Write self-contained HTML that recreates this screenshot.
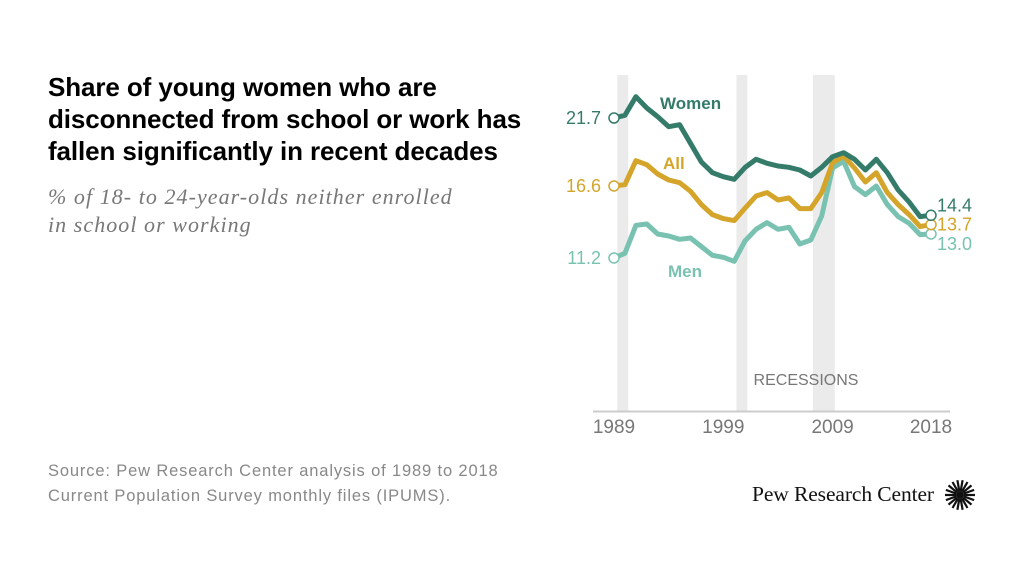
<!DOCTYPE html>
<html><head><meta charset="utf-8">
<style>
body{margin:0;width:1024px;height:576px;background:#fff;overflow:hidden;font-family:"Liberation Sans",sans-serif;position:relative}
.t{position:absolute;left:48px;top:71px;font-weight:bold;font-size:26px;line-height:32px;color:#000;letter-spacing:-0.1px;margin:0}
.s{position:absolute;left:48px;top:183px;font-family:"Liberation Serif",serif;font-style:italic;font-size:22px;line-height:28px;color:#777;margin:0;letter-spacing:1.05px}
.src{position:absolute;left:48px;top:459px;font-size:16.5px;line-height:25px;color:#888;letter-spacing:0.85px}
.logo{position:absolute;left:752px;top:482px;font-family:"Liberation Serif",serif;font-size:21.5px;color:#111;letter-spacing:-0.1px}
svg{position:absolute;left:0;top:0}
</style></head><body>
<h1 class="t">Share of young women who are<br>disconnected from school or work has<br>fallen significantly in recent decades</h1>
<p class="s">% of 18- to 24-year-olds neither enrolled<br>in school or working</p>
<div class="src">Source: Pew Research Center analysis of 1989 to 2018<br>Current Population Survey monthly files (IPUMS).</div>
<div class="logo">Pew Research Center</div>
<svg id="c" width="1024" height="576"></svg>
<script>
const years=[];for(let y=1989;y<=2018;y++)years.push(y);
const women=[21.7,21.9,23.3,22.45,21.8,21.05,21.2,19.8,18.4,17.6,17.3,17.1,18.0,18.6,18.3,18.1,18.0,17.8,17.35,18.0,18.8,19.1,18.6,17.8,18.6,17.6,16.3,15.4,14.3,14.4];
const all=[16.6,16.7,18.5,18.2,17.5,17.05,16.85,16.2,15.2,14.45,14.15,14.0,14.95,15.85,16.1,15.55,15.7,14.9,14.9,16.1,18.35,18.85,17.95,16.9,17.6,16.1,15.2,14.45,13.55,13.7];
const men=[11.2,11.55,13.65,13.75,13.0,12.85,12.6,12.7,12.05,11.4,11.25,10.95,12.5,13.35,13.85,13.35,13.5,12.25,12.55,14.35,17.95,18.45,16.55,15.95,16.6,15.2,14.3,13.8,12.95,13.0];
const recessions=[[1989.3,1990.3],[2000.2,2001.2],[2007.2,2009.2]];
const tickYears=[1989,1999,2009,2018];
const NS="http://www.w3.org/2000/svg";
const svg=document.getElementById('c');
const x=v=>614+(v-1989)*(931-614)/29;
const y=v=>118+(21.7-v)*13.33;
function mk(tag,at,txt){const e=document.createElementNS(NS,tag);for(const k in at)e.setAttribute(k,at[k]);if(txt!==undefined)e.textContent=txt;svg.appendChild(e);return e;}
recessions.forEach(r=>{const e=mk('rect',{x:x(r[0]),y:75,width:x(r[1])-x(r[0]),height:336,fill:'#ebebeb'});

});
let e=mk('text',{x:806,y:385,'text-anchor':'middle','font-size':16,fill:'#777'},'RECESSIONS');


e=mk('line',{x1:593,x2:950,y1:411.5,y2:411.5,stroke:'#ccc','stroke-width':2});


tickYears.forEach(t=>{const e=mk('text',{x:x(t),y:433,'text-anchor':'middle','font-size':19,fill:'#777'},t);

});
const series=[[men,'#79c2b1','men'],[all,'#d4a52a','all'],[women,'#347b6a','women']];
series.forEach(s=>{const d=s[0].map((v,i)=>(i?'L':'M')+x(years[i]).toFixed(1)+','+y(v).toFixed(1)).join('');
const p=mk('path',{d:d,fill:'none',stroke:s[1],'stroke-width':5,'stroke-linejoin':'round'});


[0,s[0].length-1].forEach(i=>{const c=mk('circle',{cx:x(years[i]),cy:y(s[0][i]),r:5,fill:'#fff',stroke:s[1],'stroke-width':1.5});

});
});
function vl(v,xx,yy,col,anc){const e=mk('text',{x:xx,y:yy,'text-anchor':anc,'font-size':18,fill:col},v.toFixed(1));

}
vl(women[0],601,y(women[0])+6,'#347b6a','end');
vl(all[0],601,y(all[0])+6,'#d4a52a','end');
vl(men[0],601,y(men[0])+6,'#79c2b1','end');
vl(women[29],937,y(women[29])-4,'#347b6a','start');
vl(all[29],937,y(all[29])+6,'#d4a52a','start');
vl(men[29],937,y(men[29])+16,'#79c2b1','start');
[['Women',660,109,'#347b6a'],['All',663,169,'#d4a52a'],['Men',668,277,'#79c2b1']].forEach(l=>{const e=mk('text',{x:l[1],y:l[2],'font-size':17,'font-weight':'bold',fill:l[3]},l[0]);

});
const g=mk('g',{transform:'translate(960,495)'});


for(let a=0;a<360;a+=20){const l=document.createElementNS(NS,'line');const r=a*Math.PI/180;
l.setAttribute('x1',4*Math.cos(r));l.setAttribute('y1',4*Math.sin(r));l.setAttribute('x2',15*Math.cos(r));l.setAttribute('y2',15*Math.sin(r));
l.setAttribute('stroke','#111');l.setAttribute('stroke-width','2.2');g.appendChild(l);}
const cc=document.createElementNS(NS,'circle');cc.setAttribute('r','4');cc.setAttribute('fill','#111');g.appendChild(cc);
</script>
</body></html>
